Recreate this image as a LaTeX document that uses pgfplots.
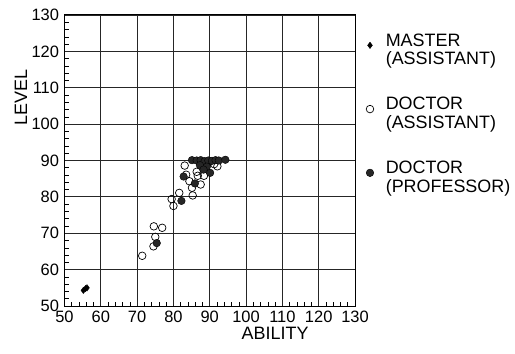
\documentclass[border=0pt]{standalone}
\usepackage{fontspec}
\setmainfont{Liberation Sans}
\usepackage{pgfplots}
\pgfplotsset{compat=1.18}
\begin{document}
\begin{tikzpicture}
\begin{axis}[
  scale only axis, width=290.5bp, height=291bp,
  xmin=50, xmax=130, ymin=50, ymax=130,
  xtick={50,60,...,130}, ytick={50,60,...,130},
  minor tick num=4,
  grid=major, major grid style={black!85, line width=0.9pt},
  axis line style={black, line width=1pt},
  tick align=inside, tick pos=left,
  major tick length=0pt, minor tick length=4bp,
  minor tick style={black, line width=0.6pt},
  /pgf/number format/assume math mode=true,
  ticklabel style={font=\fontsize{16.5}{16.5}\selectfont},
  xticklabel style={yshift=-2bp},
  yticklabel style={xshift=-2bp},
  xlabel={ABILITY}, ylabel={LEVEL},
  label style={font=\fontsize{18}{18}\selectfont},
  xlabel style={at={(ticklabel cs:0.725)}, inner sep=0bp},
  ylabel style={at={(ticklabel cs:0.715)}, inner sep=1bp},
  legend style={at={(rel axis cs:1,1)}, anchor=north west, xshift=8bp, yshift=-14bp,
    draw=none, fill=none, row sep=35.5bp, font=\fontsize{18}{18.5}\selectfont,
    /tikz/every odd column/.append style={column sep=10bp}},
  legend cell align=left,
  legend image code/.code={\draw[mark repeat=2,mark phase=2,#1] plot coordinates {(-0.15cm,0cm)(0cm,0cm)(0.15cm,0cm)};},
]
\addplot[only marks, mark=diamond*, mark size=3.2bp, black] coordinates {
  (55.2,54.3) (55.8,54.8) (56.2,55.0)
};
\addlegendentry{\begin{tabular}{@{}l@{}}MASTER\\(ASSISTANT)\end{tabular}}
\addplot[only marks, mark=o, mark size=3.8bp, black, line width=0.7pt] coordinates {
  (71.4,63.8) (74.6,71.9) (76.9,71.5) (75.0,69.0) (74.5,66.4)
  (79.5,79.4) (81.6,81.1) (80.0,77.5) (83.1,88.6) (83.5,86.1)
  (84.4,84.3) (85.3,80.4) (85.1,82.5) (87.5,83.4) (86.4,86.9)
  (88.4,85.8) (92.1,88.4) (91.2,89.0) (89.6,89.4) (86.7,85.8)
};
\addlegendentry{\begin{tabular}{@{}l@{}}DOCTOR\\(ASSISTANT)\end{tabular}}
\addplot[only marks, mark=*, mark size=3.8bp, black!85, mark options={fill=black!85, draw=black}] coordinates {
  (75.4,67.3) (82.2,78.9) (82.8,85.6) (85.9,83.7) (85.1,90.1)
  (86.4,90.0) (87.5,90.1) (88.6,89.8) (89.6,90.0) (90.6,89.9)
  (91.6,90.1) (92.5,90.0) (94.3,90.2) (90.1,86.6) (89.2,88.3)
  (87.3,88.7) (88.3,87.5)
};
\addlegendentry{\begin{tabular}{@{}l@{}}DOCTOR\\(PROFESSOR)\end{tabular}}
\end{axis}
\pgfresetboundingbox
\path (current axis.south west) ++(-64.5bp,-48bp) rectangle ++(515bp,354bp);
\end{tikzpicture}
\end{document}
